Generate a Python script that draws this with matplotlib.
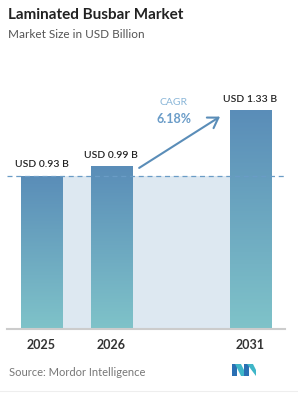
import numpy as np
import matplotlib.pyplot as plt
from matplotlib.patches import Rectangle, Polygon
from matplotlib.colors import LinearSegmentedColormap

plt.rcParams['font.family'] = ['Lato', 'DejaVu Sans']

# data
years = ['2025', '2026', '2031']
positions = [0, 1, 3]
values = [0.93, 0.99, 1.33]
labels = ['USD 0.93 B', 'USD 0.99 B', 'USD 1.33 B']
cagr = '6.18%'

W, H = 298, 400
fig = plt.figure(figsize=(W / 100, H / 100), dpi=100)

def fx(px):
    return px / W

def fy(py):
    return 1 - py / H

ax = fig.add_axes([fx(7), fy(329), fx(285) - fx(7), fy(60) - fy(329)])
ax.axis('off')

bw = 0.59
cmap = LinearSegmentedColormap.from_list('bar', ['#7fc3c9', '#5a8db8'])
grad = np.linspace(0, 1, 256).reshape(-1, 1)

# light shaded band between first and last bar
ax.add_patch(Rectangle((positions[0] - bw / 2, 0), positions[2] - positions[0], values[0],
                       facecolor='#dde8f1', edgecolor='none', zorder=1))

for p, v, lab in zip(positions, values, labels):
    rect = Rectangle((p - bw / 2, 0), bw, v, facecolor='none', edgecolor='none', zorder=3)
    ax.add_patch(rect)
    im = ax.imshow(grad, cmap=cmap, origin='lower', aspect='auto',
                   extent=(p - bw / 2, p + bw / 2, 0, v), zorder=2)
    im.set_clip_path(rect)
    ax.text(p, v + 0.04, lab, ha='center', va='bottom', fontsize=7.5, color='#222222',
            fontweight='semibold')

ax.set_xlim(-0.496, 3.50)
ax.set_ylim(0, 1.635)

# dashed reference line
ax.plot([-0.496, 3.53], [values[0], values[0]], ls=(0, (4, 3)), color='#6a9cc6', lw=0.9,
        zorder=4, clip_on=False)
# baseline
ax.plot([-0.496, 3.50], [0, 0], color='#cccccc', lw=1.5, zorder=4, clip_on=False)

# CAGR arrow
ax.annotate('', xy=(2.6, 1.30), xytext=(1.37, 0.97),
            arrowprops=dict(arrowstyle='->,head_length=0.7,head_width=0.45', color='#5a8db8', lw=1.5))
ax.text(1.9, 1.35, 'CAGR', ha='center', va='bottom', fontsize=7.5, color='#8ab6d8')
ax.text(1.9, 1.24, cagr, ha='center', va='bottom', fontsize=9, color='#6a9cc8', fontweight='bold')

for p, y in zip(positions, years):
    ax.text(p, -0.06, y, ha='center', va='top', fontsize=9, color='#333333', fontweight='bold')

fig.text(fx(8), fy(15), 'Laminated Busbar Market', ha='left', va='center', fontsize=11,
         color='#222222', fontweight='bold')
fig.text(fx(8), fy(35), 'Market Size in USD Billion', ha='left', va='center', fontsize=8.5,
         color='#555555')
fig.text(fx(9), fy(372), 'Source: Mordor Intelligence', ha='left', va='center', fontsize=8,
         color='#777777')

# logo
logo = [
    ([(232, 376), (237, 376), (237, 364), (232, 364)], '#2a6fb3'),
    ([(235, 364), (241, 364), (247, 376), (241, 376)], '#3fb6c8'),
    ([(244, 376), (249, 376), (249, 364), (244, 364)], '#2a6fb3'),
    ([(247, 364), (253, 364), (256, 370), (256, 376)], '#3fb6c8'),
]
for pts, c in logo:
    fig.patches.append(Polygon([(fx(a), fy(b)) for a, b in pts], closed=True,
                               transform=fig.transFigure, facecolor=c, edgecolor='none'))

fig.add_artist(plt.Line2D([0, 1], [fy(391), fy(391)], color='#eeeeee', lw=0.8))

fig.savefig('out.png', dpi=100)
